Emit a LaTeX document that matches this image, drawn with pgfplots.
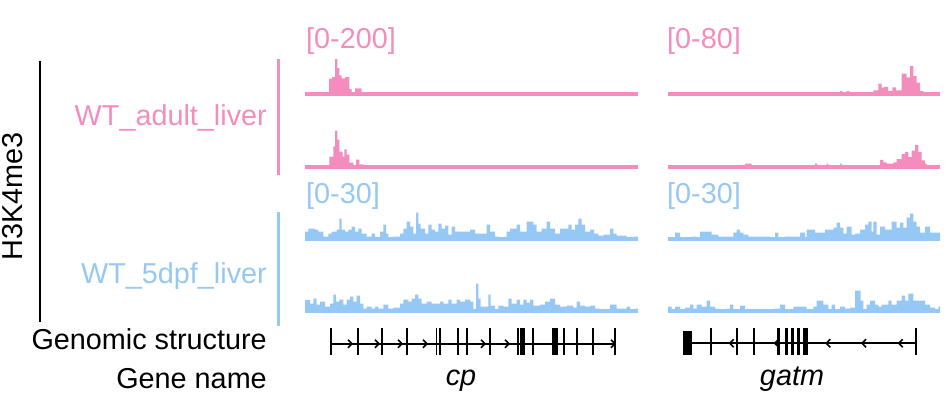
\documentclass[border=0pt]{standalone}
\usepackage{fontspec}
\setmainfont{Liberation Sans}
\usepackage{pgfplots}
\pgfplotsset{compat=1.18}
\definecolor{pk}{RGB}{245,140,190}
\definecolor{bl}{RGB}{150,200,245}
\pgfdeclareplotmark{chevR}{%
 \pgfpathmoveto{\pgfpoint{-0.5\pgfplotmarksize}{\pgfplotmarksize}}%
 \pgfpathlineto{\pgfpoint{0.5\pgfplotmarksize}{0pt}}%
 \pgfpathlineto{\pgfpoint{-0.5\pgfplotmarksize}{-\pgfplotmarksize}}%
 \pgfusepathqstroke}
\pgfdeclareplotmark{chevL}{%
 \pgfpathmoveto{\pgfpoint{0.5\pgfplotmarksize}{\pgfplotmarksize}}%
 \pgfpathlineto{\pgfpoint{-0.5\pgfplotmarksize}{0pt}}%
 \pgfpathlineto{\pgfpoint{0.5\pgfplotmarksize}{-\pgfplotmarksize}}%
 \pgfusepathqstroke}
\pgfplotsset{
 trk/.style={scale only axis, hide axis, enlargelimits=false, clip=false, ymin=0, xmin=0, height=37.5pt, anchor=south west},
 gs/.style={scale only axis, hide axis, enlargelimits=false, clip=false, ymin=0, ymax=1, xmin=0, height=26.7pt, anchor=south west},
 cpw/.style={width=333pt, xmax=333},
 gtw/.style={width=272pt, xmax=272},
}
\newcommand{\lab}{\fontsize{28.8}{32}\selectfont}
\begin{document}
\begin{tikzpicture}
\path[use as bounding box] (0pt,0pt) rectangle (947pt,-399pt);

% ---------- pink tracks: cp ----------
\begin{axis}[trk,cpw,ymax=200,at={(305pt,-94.3pt)}]
\addplot[pk,line width=4pt] coordinates {(0,0) (333,0)};
\addplot[fill=pk,draw=none,const plot] coordinates {(24,84) (27,91) (30,187) (32.3,139) (34.3,101) (36.7,85) (40,91) (44.3,27) (46.7,11) (50,32) (56.7,0)} \closedcycle;
\end{axis}
\begin{axis}[trk,cpw,ymax=200,at={(305pt,-166.5pt)}]
\addplot[pk,line width=4pt] coordinates {(0,0) (333,0)};
\addplot[fill=pk,draw=none,const plot] coordinates {(24.3,53) (28.3,107) (30,192) (32.3,144) (34.3,80) (37.7,53) (39.3,91) (41.7,64) (44.3,21) (48.3,0) (51,37) (54.3,11) (58.3,0)} \closedcycle;
\end{axis}
% ---------- pink tracks: gatm ----------
\begin{axis}[trk,gtw,ymax=80,at={(668pt,-94.3pt)}]
\addplot[pk,line width=4pt] coordinates {(0,0) (272,0)};
\addplot[fill=pk,draw=none,const plot] coordinates {(172,7) (174.7,0) (178.7,7) (181.3,0) (205.3,8.5) (210.3,23) (213.7,14) (216,16) (220.3,7) (224.3,15) (228,8.5) (233.7,44) (238.7,36) (242,60) (245.3,39) (248.7,25) (252,7) (255.3,0)} \closedcycle;
\end{axis}
\begin{axis}[trk,gtw,ymax=80,at={(668pt,-166.5pt)}]
\addplot[pk,line width=4pt] coordinates {(0,0) (272,0)};
\addplot[fill=pk,draw=none,const plot] coordinates {(77,6) (83.7,0) (147,6) (149.3,0) (158.7,6) (160.3,0) (172,6) (173.7,0) (212,14) (215.3,9) (218.7,6) (225.3,9) (228.7,16) (233.7,27) (237,31) (240.3,20) (243.7,34) (247,46) (250.3,31) (253.7,13) (257,6) (258.7,0)} \closedcycle;
\end{axis}

% ---------- blue tracks: cp ----------
\begin{axis}[trk,cpw,ymax=30,at={(305pt,-240.5pt)}]
\addplot[fill=bl,draw=none] coordinates {(0,2.6) (333,2.6)} \closedcycle;
\addplot[fill=bl,draw=none,const plot] coordinates {(0,7.2) (3.3,9.6) (10,8.8) (13.3,7.2) (18.3,3.2) (23.3,5.6) (26.7,7.2) (31.7,8.8) (34.3,17.6) (36.7,8.8) (40,7.2) (43.3,8.8) (46.7,11.2) (50,7.2) (53.3,9.6) (56.7,5.6) (61.7,3.2) (66.7,5.6) (70,2.4) (75,7.2) (78.3,12.8) (81,5.6) (83.3,2.4) (88.3,3.2) (95,5.6) (98.3,9.6) (101.7,15.2) (105,11.2) (108.3,5.6) (111,22.4) (113.3,13.6) (115.7,9.6) (120,5.6) (123.3,12.8) (126.7,8.8) (130,7.2) (133.3,13.6) (136.7,9.6) (140,12) (143.3,4.8) (146.7,11.2) (150,7.2) (165,8.8) (170,5.6) (181.7,12.8) (185,7.2) (190,3.2) (193.3,2.4) (201.7,7.2) (205,9.6) (211.7,12.8) (215,7.2) (221.7,15.2) (228.3,12.8) (231.7,7.2) (236.7,9.6) (241.7,15.2) (245,9.6) (250,5.6) (255,9.6) (263.3,12.8) (266.7,8.8) (270,12.8) (273.3,17.6) (276.7,12.8) (280,7.2) (285,8.8) (289,5.6) (293.3,4) (298.3,4.8) (305,9.6) (308.3,5.6) (311.7,4) (321.7,2.4) (328.3,3.2) (333,3.2)} \closedcycle;
\end{axis}
\begin{axis}[trk,cpw,ymax=30,at={(305pt,-312.5pt)}]
\addplot[fill=bl,draw=none] coordinates {(0,2.6) (333,2.6)} \closedcycle;
\addplot[fill=bl,draw=none,const plot] coordinates {(0,10.2) (5,7.2) (8.3,11.2) (11.7,6.4) (15,8.8) (20,4.8) (25,7.2) (28.3,14.4) (31,8.8) (34.3,10.4) (38.3,6.4) (41.7,10.4) (45,12.8) (48.3,8.8) (51.7,13.6) (55,7.2) (58.3,3.2) (61.7,4.8) (66.7,3.2) (70,4.8) (73.3,3.2) (78.3,6.4) (83.3,3.2) (88.3,4) (95,7.2) (98.3,10.4) (103.3,8.8) (106.7,11.2) (110,14.4) (113.3,11.2) (116.7,7.2) (121.7,8.8) (126.7,7.2) (135,8.8) (138.3,7.2) (143.3,10.4) (146.7,7.2) (151.7,10.4) (155,8.8) (160,10.4) (165,8.8) (168.3,2.4) (171,23.2) (173.3,11.2) (175.7,4.8) (183.3,14.4) (185.7,5.6) (190,2.4) (193.3,5.6) (198.3,4.8) (203.3,11.2) (206.7,7.2) (211.7,10.4) (215,6.4) (218.3,10.4) (221.7,8) (225,10.4) (228.3,5.6) (235,6.4) (240,8.8) (245,11.2) (250,6.4) (255,4.8) (261.7,5.6) (268.3,4) (271.7,8.8) (275,5.6) (280,4.8) (285,5.6) (290,3.2) (295,2.4) (305,6.4) (311.7,3.2) (321.7,4.8) (325,2.4) (330,3.2) (333,3.2)} \closedcycle;
\end{axis}
% ---------- blue tracks: gatm ----------
\begin{axis}[trk,gtw,ymax=30,at={(668pt,-240.5pt)}]
\addplot[fill=bl,draw=none] coordinates {(0,2.6) (272,2.6)} \closedcycle;
\addplot[fill=bl,draw=none,const plot] coordinates {(0,2.4) (7,6.4) (12,2.4) (17,1.6) (23.7,3.2) (28.7,2.4) (32,7.2) (43.7,4.8) (50.3,3.2) (65.3,6.4) (68.7,8.8) (72,6.4) (75.3,4.8) (80.3,3.2) (102,2.4) (107,6.4) (110.3,2.4) (117,3.2) (132,6.4) (137,2.4) (138.7,8.8) (147,6.4) (157,8.8) (165.3,10.4) (168.7,14.4) (172,10.4) (175.3,5.6) (178.7,11.2) (183.7,4.8) (187,5.6) (192,8.8) (197,12.8) (200.3,15.2) (203.7,7.2) (205.3,15.2) (208.7,4.8) (212,11.2) (217,8.8) (223.7,15.2) (228.7,10.4) (232,14.4) (235.3,10.4) (238.7,18.4) (242,21.6) (245.3,15.2) (248.7,11.2) (252,6.4) (257,11.2) (262,6.4) (272,6.4)} \closedcycle;
\end{axis}
\begin{axis}[trk,gtw,ymax=30,at={(668pt,-312.5pt)}]
\addplot[fill=bl,draw=none] coordinates {(0,2.6) (272,2.6)} \closedcycle;
\addplot[fill=bl,draw=none,const plot] coordinates {(0,4.8) (3.7,1.6) (7,4.8) (12,1.6) (17,4) (22,6.4) (25.3,3.2) (28.7,6.4) (33.7,4.8) (38.7,9.6) (42,4.8) (47,3.2) (50.3,1.6) (58.7,3.2) (62,6.4) (65.3,2.4) (72,5.6) (77,2.4) (98.7,1.6) (107,3.2) (112,6.4) (117,2.4) (125.3,4.8) (132,4.8) (138.7,2.4) (145.3,4.8) (148.7,9.6) (155.3,6.4) (160.3,2.4) (163.7,6.4) (167,2.4) (172,4.8) (177,3.2) (182,4) (187,17.6) (192.7,9.6) (195.3,2.4) (198.7,6.4) (202,9.6) (207,6.4) (210.3,4.8) (213.7,6.4) (220.3,9.6) (223.7,6.4) (228.7,9.6) (233.7,13.6) (237,9.6) (240.3,15.2) (245.3,9.6) (257,6.4) (262,4) (267,2.4) (270.3,4.8) (272,4.8)} \closedcycle;
\end{axis}

% ---------- gene structure: cp ----------
\begin{axis}[gs,cpw,at={(305pt,-355pt)}]
\addplot[black,line width=2pt] coordinates {(25.7,0.42) (310,0.42)};
\addplot[black,ycomb,line width=2.3pt] coordinates {(25.7,1) (53,1) (77,1) (102,1) (153,1) (162,1) (185,1) (213,1) (228,1) (259,1) (272,1) (288,1) (310,1)};
\addplot[black,ycomb,line width=1.6pt] coordinates {(131.3,1) (135,1)};
\addplot[fill=black,draw=none] coordinates {(215,1) (220,1)} \closedcycle;
\addplot[fill=black,draw=none] coordinates {(246.7,1) (253.3,1)} \closedcycle;
\addplot[black,only marks,mark=chevR,mark size=4pt,line width=1.6pt] coordinates {(45,0.42) (72,0.42) (95,0.42) (120,0.42) (178,0.42) (202,0.42) (308,0.42)};
\end{axis}
% ---------- gene structure: gatm ----------
\begin{axis}[gs,gtw,at={(668pt,-355pt)}]
\addplot[black,line width=2pt] coordinates {(15,0.44) (248,0.44)};
\addplot[fill=black,draw=none] coordinates {(15,0.9) (24,0.9)} \closedcycle;
\addplot[black,ycomb,line width=2.3pt] coordinates {(42.7,1) (69.3,1) (86,1) (248,1)};
\addplot[black,ycomb,line width=3pt] coordinates {(110,1) (118,1) (124.5,1) (130,1)};
\addplot[fill=black,draw=none] coordinates {(135,1) (140.3,1)} \closedcycle;
\addplot[black,only marks,mark=chevL,mark size=4pt,line width=1.6pt] coordinates {(63.7,0.44) (108.7,0.44) (160.3,0.44) (196,0.44) (232.7,0.44)};
\end{axis}

% ---------- decorations ----------
\draw[black,line width=1.8pt] (40pt,-61pt) -- (40pt,-322pt);
\draw[pk,line width=3pt] (278pt,-59pt) -- (278pt,-175pt);
\draw[bl,line width=3pt] (278pt,-212pt) -- (278pt,-326pt);

% ---------- labels ----------
\begin{scope}[every node/.style={inner sep=0pt,font=\lab}]
\node[rotate=90,anchor=base] at (22pt,-196pt) {H3K4me3};
\node[anchor=base east,text=pk] at (267pt,-125pt) {WT\_adult\_liver};
\node[anchor=base east,text=bl] at (267pt,-283pt) {WT\_5dpf\_liver};
\node[anchor=base east] at (267pt,-349pt) {Genomic structure};
\node[anchor=base east] at (267pt,-388pt) {Gene name};
\node[anchor=base west,text=pk] at (306pt,-48pt) {[0-200]};
\node[anchor=base west,text=pk] at (667pt,-48pt) {[0-80]};
\node[anchor=base west,text=bl] at (306pt,-203pt) {[0-30]};
\node[anchor=base west,text=bl] at (667pt,-203pt) {[0-30]};
\node[anchor=base] at (461pt,-385pt) {\itshape cp};
\node[anchor=base] at (792pt,-385pt) {\itshape gatm};
\end{scope}
\end{tikzpicture}
\end{document}
